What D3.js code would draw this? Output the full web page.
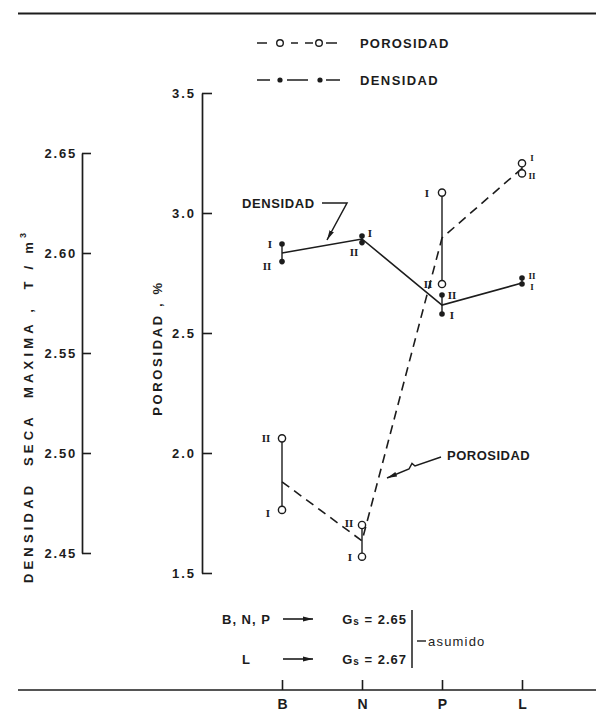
<!DOCTYPE html>
<html>
<head>
<meta charset="utf-8">
<script src="https://cdn.jsdelivr.net/npm/d3@7"></script>
<style>
  html, body { margin: 0; padding: 0; background: #fff; }
  svg { display: block; }
  text { font-family: "Liberation Sans", Arial, sans-serif; font-weight: bold; fill: #1c1c1c; }
  .numeral { font-family: "Liberation Serif", "DejaVu Serif", serif; font-weight: bold; }
</style>
</head>
<body>
<svg id="chart" width="596" height="713"></svg>
<script>
// Soil samples (B, N, P, L), two specimens each (I, II)
const categories = ["B", "N", "P", "L"];
const sampleNames = ["I", "II"];

// Maximum dry density, T/m3
const densityI  = [2.6045, 2.6085, 2.5695, 2.5845];
const densityII = [2.5957, 2.6052, 2.5790, 2.5875];
const densityTrend = [2.600, 2.607, 2.574, 2.585];

// Porosity, %
const porosityI  = [1.763, 1.568, 3.085, 3.207];
const porosityII = [2.061, 1.700, 2.704, 3.165];
const porosityTrend = [1.880, 1.634, 2.896, 3.186];

const densityTicks = [2.45, 2.50, 2.55, 2.60, 2.65];
const densityTickLabels = ["2.45", "2.50", "2.55", "2.60", "2.65"];
const porosityTicks = [1.5, 2.0, 2.5, 3.0, 3.5];
const porosityTickLabels = ["1.5", "2.0", "2.5", "3.0", "3.5"];

// Where each roman numeral sits relative to its mark (dx, dy), per category
const numeralOffset = {
  densidad:  { I: [[-12, 0], [8, -3], [10, 1], [10, 3]],  II: [[-15, 4], [-8, 9], [10, 0], [10, -2]] },
  porosidad: { I: [[-14, 3], [-12, 0], [-15, 0], [10, -5]], II: [[-16, 0], [-13, -2], [-14, 0], [10, 3]] }
};

const ink = "#1c1c1c";
const svg = d3.select("#chart");

const x = d3.scalePoint().domain(categories).range([282, 522]);
const yDen = d3.scaleLinear().domain([2.45, 2.65]).range([553, 153]);
const yPor = d3.scaleLinear().domain([1.5, 3.5]).range([573, 93]);

const defs = svg.append("defs");
defs.append("marker")
  .attr("id", "arrow").attr("viewBox", "0 0 10 6")
  .attr("refX", 10).attr("refY", 3)
  .attr("markerWidth", 10).attr("markerHeight", 6)
  .attr("markerUnits", "userSpaceOnUse").attr("orient", "auto")
  .append("path").attr("d", "M0,0.6 L10,3 L0,5.4 Z").attr("fill", ink);

// Frame rules
svg.append("line").attr("x1", 18).attr("x2", 596).attr("y1", 13.5).attr("y2", 13.5)
  .attr("stroke", ink).attr("stroke-width", 2);
svg.append("line").attr("x1", 18).attr("x2", 596).attr("y1", 690).attr("y2", 690)
  .attr("stroke", ink).attr("stroke-width", 1.5);

function styleAxis(g, size, spacing) {
  g.attr("font-family", null).attr("font-size", null);
  g.select(".domain").attr("stroke", ink).attr("stroke-width", 1.7);
  g.selectAll(".tick line").attr("stroke", ink).attr("stroke-width", 1.6);
  g.selectAll(".tick text").style("font-size", size + "px").style("letter-spacing", spacing + "px").attr("fill", ink);
}

// Density axis (left)
const gDen = svg.append("g").attr("transform", "translate(82,0)")
  .call(d3.axisLeft(yDen).tickValues(densityTicks)
    .tickFormat((d, i) => densityTickLabels[i])
    .tickSizeInner(-9).tickSizeOuter(0).tickPadding(5));
styleAxis(gDen, 13, 1.8);

// Porosity axis (middle)
const gPor = svg.append("g").attr("transform", "translate(202,0)")
  .call(d3.axisLeft(yPor).tickValues(porosityTicks)
    .tickFormat((d, i) => porosityTickLabels[i])
    .tickSizeInner(-10).tickSizeOuter(0).tickPadding(6));
styleAxis(gPor, 13, 2);

// Sample axis (bottom)
const gX = svg.append("g").attr("transform", "translate(0,690)")
  .call(d3.axisBottom(x).tickSizeInner(-10).tickSizeOuter(0).tickPadding(9));
styleAxis(gX, 14, 0);
gX.select(".domain").remove();

// Rotated axis titles, spread to their printed length
function fitSpacing(sel, target) {
  sel.style("letter-spacing", "0px");
  const n = sel.text().length;
  const w = sel.node().getComputedTextLength();
  sel.style("letter-spacing", ((target - w) / (n - 1)) + "px");
}
const denTitle = svg.append("text")
  .attr("transform", "translate(28,406) rotate(-90)")
  .attr("text-anchor", "middle").attr("dominant-baseline", "central")
  .style("font-size", "13px").style("white-space", "pre");
denTitle.append("tspan").text("DENSIDAD  SECA  MAXIMA ,  T / m");
denTitle.append("tspan").attr("dy", -5).style("font-size", "9px").text("3");
fitSpacing(denTitle, 350);

const porTitle = svg.append("text")
  .attr("transform", "translate(157,348) rotate(-90)")
  .attr("text-anchor", "middle").attr("dominant-baseline", "central")
  .style("font-size", "13px").style("white-space", "pre")
  .text("POROSIDAD , %");
fitSpacing(porTitle, 133);

// Legend
const legend = svg.append("g");
[[257, 267], [291, 298], [305, 313], [326, 337]].forEach(([a, b]) =>
  legend.append("line").attr("x1", a).attr("x2", b).attr("y1", 43).attr("y2", 43)
    .attr("stroke", ink).attr("stroke-width", 1.5));
[280, 319].forEach(cx => legend.append("circle").attr("cx", cx).attr("cy", 43).attr("r", 3.3)
  .attr("fill", "#fff").attr("stroke", ink).attr("stroke-width", 1.4));
[[257, 270], [287, 308], [326, 340]].forEach(([a, b]) =>
  legend.append("line").attr("x1", a).attr("x2", b).attr("y1", 80).attr("y2", 80)
    .attr("stroke", ink).attr("stroke-width", 1.5));
[280, 320].forEach(cx => legend.append("circle").attr("cx", cx).attr("cy", 80).attr("r", 2.6).attr("fill", ink));
legend.append("text").attr("x", 360).attr("y", 43).attr("dominant-baseline", "central")
  .style("font-size", "13px").style("letter-spacing", "1.2px").text("POROSIDAD");
legend.append("text").attr("x", 360).attr("y", 80).attr("dominant-baseline", "central")
  .style("font-size", "13px").style("letter-spacing", "1.4px").text("DENSIDAD");

// Series records
const density = categories.map((c, i) => ({ c, i, I: densityI[i], II: densityII[i], trend: densityTrend[i] }));
const porosity = categories.map((c, i) => ({ c, i, I: porosityI[i], II: porosityII[i], trend: porosityTrend[i] }));

const marks = svg.append("g");

// Trend lines through the sample pairs
marks.append("path").datum(density)
  .attr("d", d3.line().x(d => x(d.c)).y(d => yDen(d.trend)))
  .attr("fill", "none").attr("stroke", ink).attr("stroke-width", 1.6);
marks.append("path").datum(porosity)
  .attr("d", d3.line().x(d => x(d.c)).y(d => yPor(d.trend)))
  .attr("fill", "none").attr("stroke", ink).attr("stroke-width", 1.6)
  .attr("stroke-dasharray", "9 6");

// Vertical connectors between specimens I and II
const rC = 3.6;
marks.selectAll(".den-link").data(density).join("line")
  .attr("x1", d => x(d.c)).attr("x2", d => x(d.c))
  .attr("y1", d => yDen(d.I)).attr("y2", d => yDen(d.II))
  .attr("stroke", ink).attr("stroke-width", 1.4);
marks.selectAll(".por-link").data(porosity.filter(d => Math.abs(yPor(d.I) - yPor(d.II)) > 2 * rC + 2)).join("line")
  .attr("x1", d => x(d.c)).attr("x2", d => x(d.c))
  .attr("y1", d => Math.min(yPor(d.I), yPor(d.II)) + rC)
  .attr("y2", d => Math.max(yPor(d.I), yPor(d.II)) - rC)
  .attr("stroke", ink).attr("stroke-width", 1.4);

// Points and numerals
const numeralG = svg.append("g");
sampleNames.forEach(s => {
  marks.selectAll(null).data(porosity).join("circle")
    .attr("cx", d => x(d.c)).attr("cy", d => yPor(d[s])).attr("r", rC)
    .attr("fill", "#fff").attr("stroke", ink).attr("stroke-width", 1.4);
  marks.selectAll(null).data(density).join("circle")
    .attr("cx", d => x(d.c)).attr("cy", d => yDen(d[s])).attr("r", 2.8)
    .attr("fill", ink);
  numeralG.selectAll(null).data(porosity).join("text").attr("class", "numeral")
    .attr("x", d => x(d.c) + numeralOffset.porosidad[s][d.i][0])
    .attr("y", d => yPor(d[s]) + numeralOffset.porosidad[s][d.i][1])
    .attr("text-anchor", "middle").attr("dominant-baseline", "central")
    .style("font-size", d => d.c === "L" ? "9px" : "11px").text(s);
  numeralG.selectAll(null).data(density).join("text").attr("class", "numeral")
    .attr("x", d => x(d.c) + numeralOffset.densidad[s][d.i][0])
    .attr("y", d => yDen(d[s]) + numeralOffset.densidad[s][d.i][1])
    .attr("text-anchor", "middle").attr("dominant-baseline", "central")
    .style("font-size", d => d.c === "L" ? "9px" : "11px").text(s);
});

// Callouts naming each curve
const notes = svg.append("g");
notes.append("text").attr("x", 242).attr("y", 203).attr("dominant-baseline", "central")
  .style("font-size", "13px").style("letter-spacing", "0.6px").text("DENSIDAD");
notes.append("path").attr("d", "M322,203 L347,203 L327,240")
  .attr("fill", "none").attr("stroke", ink).attr("stroke-width", 1.5).attr("marker-end", "url(#arrow)");
notes.append("text").attr("x", 447).attr("y", 455).attr("dominant-baseline", "central")
  .style("font-size", "13px").style("letter-spacing", "0.5px").text("POROSIDAD");
notes.append("path").attr("d", "M441,457 L415,466 L412,463.5 L409,469 L387,478")
  .attr("fill", "none").attr("stroke", ink).attr("stroke-width", 1.5).attr("marker-end", "url(#arrow)");

// Specific gravity note
const gs = svg.append("g");
function gsLine(y, who, val, xWho) {
  gs.append("text").attr("x", xWho).attr("y", y).attr("dominant-baseline", "central")
    .style("font-size", "13px").style("letter-spacing", "1px").style("white-space", "pre").text(who);
  gs.append("line").attr("x1", 283).attr("x2", 313).attr("y1", y).attr("y2", y)
    .attr("stroke", ink).attr("stroke-width", 1.6).attr("marker-end", "url(#arrow)");
  const t = gs.append("text").attr("x", 407).attr("y", y).attr("text-anchor", "end")
    .attr("dominant-baseline", "central").style("font-size", "13px").style("letter-spacing", "1px")
    .style("white-space", "pre");
  t.append("tspan").text("G");
  t.append("tspan").attr("dy", 2).style("font-size", "10px").text("s");
  t.append("tspan").attr("dy", -2).text(" = " + val);
}
gsLine(619, "B, N, P", "2.65", 222);
gsLine(659, "L", "2.67", 242);
gs.append("line").attr("x1", 412).attr("x2", 412).attr("y1", 610).attr("y2", 668)
  .attr("stroke", ink).attr("stroke-width", 1.5);
gs.append("line").attr("x1", 417).attr("x2", 426).attr("y1", 641).attr("y2", 641)
  .attr("stroke", ink).attr("stroke-width", 1.4);
gs.append("text").attr("x", 428).attr("y", 641).attr("dominant-baseline", "central")
  .style("font-size", "13px").style("letter-spacing", "1.2px").style("font-weight", "normal").text("asumido");
</script>
</body>
</html>
